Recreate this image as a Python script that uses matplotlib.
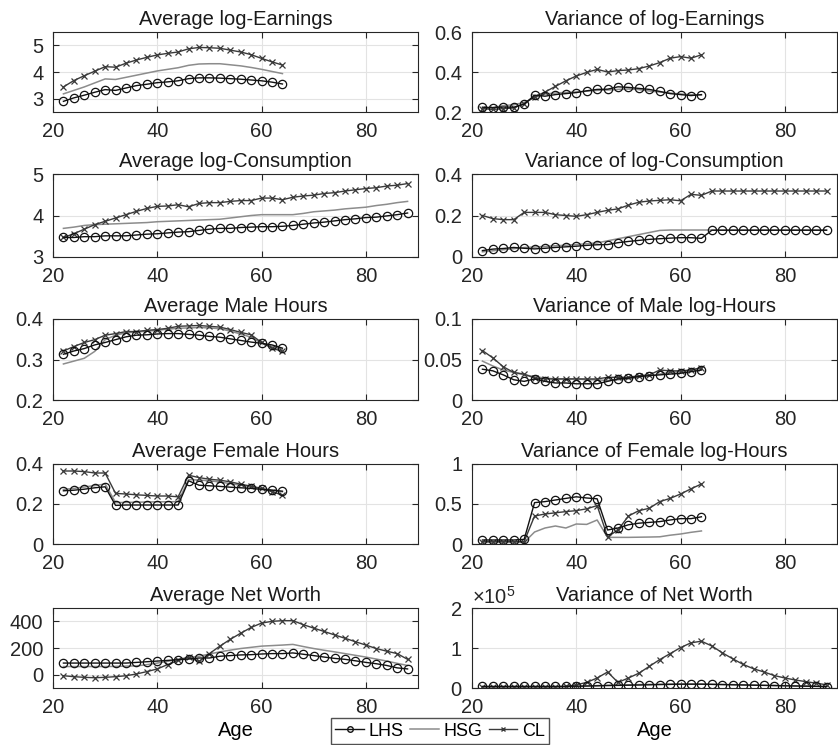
import numpy as np
import matplotlib
matplotlib.use("Agg")
import matplotlib.pyplot as plt
from matplotlib.ticker import FuncFormatter, ScalarFormatter
from matplotlib.lines import Line2D

plt.rcParams['font.family'] = ['Liberation Sans', 'DejaVu Sans']
plt.rcParams['mathtext.fontset'] = 'custom'
plt.rcParams['mathtext.rm'] = 'Liberation Sans'

# ages
age_work = [22, 24, 26, 28, 30, 32, 34, 36, 38, 40, 42, 44, 46, 48, 50, 52,
            54, 56, 58, 60, 62, 64]
age_life = [22, 24, 26, 28, 30, 32, 34, 36, 38, 40, 42, 44, 46, 48, 50, 52,
            54, 56, 58, 60, 62, 64, 66, 68, 70, 72, 74, 76, 78, 80, 82, 84,
            86, 88]

# Average log-Earnings
earn_lhs = [2.90, 3.03, 3.13, 3.24, 3.34, 3.31, 3.40, 3.49, 3.54, 3.60, 3.63,
            3.67, 3.75, 3.78, 3.78, 3.77, 3.75, 3.73, 3.70, 3.67, 3.62, 3.55]
earn_hsg = [3.18, 3.31, 3.44, 3.59, 3.74, 3.72, 3.80, 3.88, 3.96, 4.04, 4.10,
            4.16, 4.25, 4.30, 4.31, 4.31, 4.27, 4.23, 4.17, 4.10, 4.02, 3.94]
earn_cl = [3.44, 3.68, 3.86, 4.03, 4.20, 4.18, 4.33, 4.45, 4.55, 4.64, 4.70,
           4.75, 4.87, 4.92, 4.91, 4.89, 4.82, 4.75, 4.65, 4.51, 4.38, 4.26]

# Variance of log-Earnings
vearn_lhs = [0.224, 0.222, 0.225, 0.224, 0.239, 0.284, 0.279, 0.287, 0.292,
             0.297, 0.306, 0.313, 0.314, 0.326, 0.323, 0.318, 0.313, 0.303,
             0.292, 0.287, 0.282, 0.287]
vearn_hsg = [0.215, 0.222, 0.232, 0.236, 0.248, 0.272, 0.290, 0.295, 0.298,
             0.300, 0.304, 0.308, 0.310, 0.313, 0.315, 0.312, 0.305, 0.300,
             0.295, 0.290, 0.287, 0.285]
vearn_cl = [0.217, 0.213, 0.217, 0.220, 0.242, 0.276, 0.300, 0.328, 0.356,
            0.380, 0.398, 0.413, 0.400, 0.407, 0.410, 0.417, 0.430, 0.447,
            0.469, 0.477, 0.469, 0.486]

# Average log-Consumption
cons_lhs = [3.47, 3.47, 3.49, 3.49, 3.51, 3.51, 3.51, 3.53, 3.55, 3.56, 3.58,
            3.60, 3.61, 3.64, 3.67, 3.69, 3.69, 3.71, 3.72, 3.73, 3.73, 3.74,
            3.76, 3.79, 3.82, 3.84, 3.87, 3.90, 3.92, 3.95, 3.96, 3.99, 4.02,
            4.06]
cons_hsg = [3.69, 3.72, 3.76, 3.78, 3.79, 3.80, 3.81, 3.82, 3.83, 3.85, 3.86,
            3.87, 3.88, 3.89, 3.90, 3.91, 3.94, 3.97, 4.00, 4.02, 4.02, 4.02,
            4.02, 4.05, 4.09, 4.11, 4.13, 4.16, 4.18, 4.20, 4.24, 4.27, 4.31,
            4.34]
cons_cl = [3.47, 3.56, 3.67, 3.78, 3.86, 3.94, 4.02, 4.10, 4.17, 4.22, 4.23,
           4.26, 4.21, 4.29, 4.31, 4.31, 4.34, 4.36, 4.36, 4.42, 4.42, 4.38,
           4.44, 4.47, 4.49, 4.53, 4.55, 4.59, 4.62, 4.65, 4.67, 4.71, 4.73,
           4.77]

# Variance of log-Consumption
vcons_lhs = [0.031, 0.038, 0.041, 0.046, 0.042, 0.039, 0.042, 0.046, 0.049,
             0.052, 0.056, 0.059, 0.060, 0.069, 0.075, 0.080, 0.085, 0.088,
             0.091, 0.093, 0.093, 0.090, 0.129, 0.129, 0.129, 0.129, 0.129,
             0.129, 0.129, 0.129, 0.129, 0.129, 0.129, 0.129]
vcons_hsg = [0.025, 0.030, 0.035, 0.040, 0.046, 0.048, 0.051, 0.054, 0.057,
             0.060, 0.064, 0.068, 0.078, 0.088, 0.098, 0.108, 0.118, 0.128,
             0.130, 0.130, 0.130, 0.130, 0.130, 0.130, 0.130, 0.130, 0.130,
             0.130, 0.130, 0.130, 0.130, 0.130, 0.130, 0.130]
vcons_cl = [0.200, 0.185, 0.180, 0.180, 0.215, 0.215, 0.215, 0.204, 0.200,
            0.196, 0.204, 0.215, 0.225, 0.232, 0.250, 0.264, 0.270, 0.273,
            0.276, 0.271, 0.302, 0.297, 0.318, 0.318, 0.318, 0.318, 0.318,
            0.318, 0.318, 0.318, 0.318, 0.318, 0.318, 0.318]

# Average Male Hours
mh_lhs = [0.313, 0.321, 0.327, 0.336, 0.342, 0.349, 0.356, 0.360, 0.361,
          0.363, 0.364, 0.364, 0.362, 0.360, 0.357, 0.355, 0.351, 0.347,
          0.343, 0.340, 0.336, 0.328]
mh_hsg = [0.289, 0.296, 0.303, 0.320, 0.349, 0.360, 0.366, 0.368, 0.370,
          0.372, 0.375, 0.377, 0.378, 0.379, 0.378, 0.376, 0.370, 0.363,
          0.355, 0.340, 0.332, 0.325]
mh_cl = [0.321, 0.332, 0.342, 0.349, 0.360, 0.364, 0.369, 0.369, 0.372,
         0.374, 0.377, 0.382, 0.383, 0.384, 0.382, 0.380, 0.374, 0.367,
         0.361, 0.342, 0.328, 0.320]

# Variance of Male log-Hours
vmh_lhs = [0.038, 0.036, 0.031, 0.025, 0.023, 0.026, 0.023, 0.021, 0.021,
           0.020, 0.020, 0.020, 0.023, 0.026, 0.027, 0.029, 0.030, 0.031,
           0.032, 0.033, 0.035, 0.037]
vmh_hsg = [0.048, 0.042, 0.037, 0.034, 0.031, 0.029, 0.027, 0.026, 0.026,
           0.026, 0.025, 0.025, 0.024, 0.025, 0.026, 0.028, 0.030, 0.032,
           0.034, 0.035, 0.037, 0.039]
vmh_cl = [0.061, 0.052, 0.041, 0.034, 0.032, 0.027, 0.026, 0.026, 0.026,
          0.026, 0.026, 0.026, 0.028, 0.028, 0.028, 0.030, 0.031, 0.037,
          0.036, 0.036, 0.037, 0.040]

# Average Female Hours
fh_lhs = [0.266, 0.269, 0.274, 0.281, 0.286, 0.193, 0.195, 0.195, 0.195,
          0.195, 0.195, 0.195, 0.316, 0.294, 0.291, 0.288, 0.284, 0.281,
          0.278, 0.273, 0.269, 0.264]
fh_hsg = [0.273, 0.278, 0.285, 0.292, 0.300, 0.207, 0.208, 0.209, 0.210,
          0.211, 0.211, 0.212, 0.322, 0.320, 0.316, 0.310, 0.302, 0.294,
          0.286, 0.278, 0.270, 0.261]
fh_cl = [0.365, 0.365, 0.362, 0.355, 0.355, 0.253, 0.250, 0.246, 0.243,
         0.240, 0.240, 0.236, 0.344, 0.332, 0.324, 0.319, 0.311, 0.299,
         0.289, 0.278, 0.261, 0.245]

# Variance of Female log-Hours
vfh_lhs = [0.050, 0.050, 0.050, 0.050, 0.058, 0.517, 0.530, 0.550, 0.570,
           0.590, 0.575, 0.565, 0.175, 0.200, 0.240, 0.260, 0.270, 0.280,
           0.300, 0.317, 0.317, 0.340]
vfh_hsg = [0.020, 0.020, 0.020, 0.020, 0.020, 0.150, 0.200, 0.225, 0.200,
           0.250, 0.245, 0.300, 0.083, 0.083, 0.083, 0.085, 0.087, 0.090,
           0.110, 0.125, 0.146, 0.163]
vfh_cl = [0.030, 0.030, 0.030, 0.030, 0.030, 0.350, 0.375, 0.390, 0.405,
          0.417, 0.440, 0.480, 0.090, 0.175, 0.350, 0.417, 0.446, 0.530,
          0.570, 0.625, 0.690, 0.750]

# Average Net Worth
nw_lhs = [87, 87, 87, 87, 87, 87, 87, 92, 97, 102, 107, 112, 117, 125, 125,
          138, 143, 148, 150, 155, 158, 158, 163, 153, 143, 132, 122, 115, 104,
          92, 82, 69, 51, 43]
nw_hsg = [61, 61, 61, 61, 61, 62, 64, 66, 75, 87, 100, 117, 127, 138, 155,
          171, 184, 196, 205, 214, 218, 222, 227, 211, 196, 183, 171, 158, 145,
          132, 117, 102, 85, 69]
nw_cl = [-8, -15, -20, -23, -20, -15, -8, 5, 23, 43, 76, 107, 132, 99, 158,
         214, 265, 311, 354, 387, 400, 405, 405, 375, 349, 324, 298, 273, 247,
         222, 196, 176, 158, 115]

# Variance of Net Worth
vnw_lhs = [4000, 4000, 4000, 4000, 4000, 4000, 4000, 4000, 4000, 4500, 5000,
           5500, 6000, 6500, 7000, 7500, 8000, 8500, 9000, 9500, 9500, 9500,
           9000, 8500, 8000, 7500, 7000, 6500, 6000, 5500, 5000, 4500, 4000,
           3500]
vnw_hsg = [3000, 3000, 3000, 3000, 3000, 3000, 3000, 3000, 3500, 4000, 5000,
           6000, 7000, 7500, 8000, 8500, 9000, 9500, 10000, 10000, 10000,
           10000, 9500, 9000, 8500, 8000, 7500, 7000, 6500, 6000, 5500, 5000,
           4500, 4000]
vnw_cl = [3000, 3000, 3000, 3000, 3000, 3000, 3000, 3000, 4000, 8000, 14000,
          25000, 40000, 14000, 25000, 37000, 54000, 71000, 86000, 101000,
          113000, 117000, 105000, 88000, 73000, 59000, 48000, 40000, 31000,
          25000, 20000, 16000, 12000, 8000]

panels = [
    ("Average log-Earnings", age_work, earn_lhs, earn_hsg, earn_cl, (2.5, 5.5), [3, 4, 5]),
    ("Variance of log-Earnings", age_work, vearn_lhs, vearn_hsg, vearn_cl, (0.2, 0.6), [0.2, 0.4, 0.6]),
    ("Average log-Consumption", age_life, cons_lhs, cons_hsg, cons_cl, (3, 5), [3, 4, 5]),
    ("Variance of log-Consumption", age_life, vcons_lhs, vcons_hsg, vcons_cl, (0, 0.4), [0, 0.2, 0.4]),
    ("Average Male Hours", age_work, mh_lhs, mh_hsg, mh_cl, (0.2, 0.4), [0.2, 0.3, 0.4]),
    ("Variance of Male log-Hours", age_work, vmh_lhs, vmh_hsg, vmh_cl, (0, 0.1), [0, 0.05, 0.1]),
    ("Average Female Hours", age_work, fh_lhs, fh_hsg, fh_cl, (0, 0.4), [0, 0.2, 0.4]),
    ("Variance of Female log-Hours", age_work, vfh_lhs, vfh_hsg, vfh_cl, (0, 1), [0, 0.5, 1]),
    ("Average Net Worth", age_life, nw_lhs, nw_hsg, nw_cl, (-100, 500), [0, 200, 400]),
    ("Variance of Net Worth", age_life, vnw_lhs, vnw_hsg, vnw_cl, (0, 2e5), [0, 1e5, 2e5]),
]

W, H = 838, 745
fig = plt.figure(figsize=(W / 100, H / 100), dpi=100)

tops = [32, 174, 319, 464, 608]
bottoms = [112, 257, 400, 544, 688]
lefts = [53, 472]
width = 365

c_lhs, c_hsg, c_cl = '#111111', '#8c8c8c', '#3a3a3a'

for i, (title, ages, lhs, hsg, cl, ylim, yticks) in enumerate(panels):
    r, c = divmod(i, 2)
    ax = fig.add_axes([lefts[c] / W, 1 - bottoms[r] / H, width / W,
                       (bottoms[r] - tops[r]) / H])
    ax.plot(ages, hsg, color=c_hsg, lw=1.1)
    ax.plot(ages, cl, color=c_cl, lw=1.0, marker='x', ms=4.5, mew=0.9)
    ax.plot(ages, lhs, color=c_lhs, lw=1.0, marker='o', ms=6, mfc='none', mew=0.9)
    ax.set_xlim(20, 90)
    ax.set_ylim(*ylim)
    ax.set_xticks([20, 40, 60, 80])
    ax.set_yticks(yticks)
    ax.grid(True, color='#e3e3e3', lw=0.8)
    ax.set_axisbelow(True)
    ax.tick_params(direction='in', top=True, right=True, length=4,
                   labelsize=14.5, colors='#262626', pad=7)
    for s in ax.spines.values():
        s.set_color('#262626')
        s.set_linewidth(0.8)
    if i == 9:
        fmt = ScalarFormatter(useMathText=True)
        fmt.set_powerlimits((0, 0))
        ax.yaxis.set_major_formatter(fmt)
        ax.yaxis.get_offset_text().set_fontsize(14.5)
    else:
        ax.yaxis.set_major_formatter(FuncFormatter(lambda v, p: '%g' % v))
    ax.set_title(title, fontsize=14.5, pad=5, color='#1a1a1a')
    if r == 4:
        ax.set_xlabel("Age", fontsize=14.5, labelpad=3)

handles = [
    Line2D([], [], color=c_lhs, lw=1.0, marker='o', ms=4, mfc='none'),
    Line2D([], [], color=c_hsg, lw=1.1),
    Line2D([], [], color=c_cl, lw=1.0, marker='x', ms=3.5),
]
fig.legend(handles, ['LHS', 'HSG', 'CL'], loc='center', ncol=3,
           bbox_to_anchor=(440 / W, 1 - 731 / H), fontsize=13,
           frameon=True, fancybox=False, edgecolor='#262626',
           handlelength=1.6, handletextpad=0.25, columnspacing=0.35,
           borderpad=0.25, borderaxespad=0)

fig.savefig("out.png", dpi=100)
